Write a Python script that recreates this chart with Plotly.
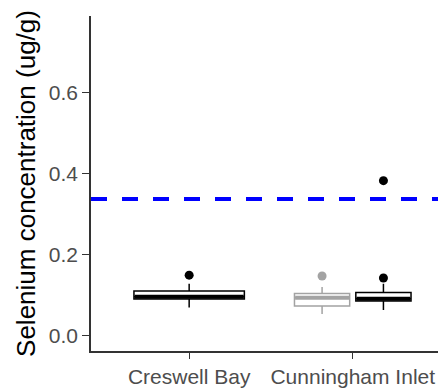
import plotly.graph_objects as go

# ---- data ----
categories = ["Creswell Bay", "Cunningham Inlet"]
# boxes: (category index, group, q1, median, q3, lower whisker, upper whisker)
box_cat = [0, 1, 1]
box_group = ["black", "gray", "black"]
box_q1 = [0.090, 0.073, 0.085]
box_median = [0.096, 0.093, 0.091]
box_q3 = [0.110, 0.104, 0.106]
box_lower = [0.069, 0.053, 0.063]
box_upper = [0.128, 0.120, 0.128]
# outliers
out_box = [0, 1, 2, 2]
out_value = [0.149, 0.147, 0.142, 0.382]
threshold = 0.337

y_ticks = [0.0, 0.2, 0.4, 0.6]

colors = {"black": "#000000", "gray": "#A3A3A3"}

# dodge positions (ggplot-like: width 0.75, padding 0.1)
dodge_w = 0.75
pad = 0.1
n_in_cat = {c: box_cat.count(c) for c in set(box_cat)}
positions, widths = [], []
seen = {}
for c in box_cat:
    n = n_in_cat[c]
    k = seen.get(c, 0)
    seen[c] = k + 1
    slot = dodge_w / n
    positions.append(c - dodge_w / 2 + slot * (k + 0.5))
    widths.append(slot * (1 - pad))

x_range = [-0.6, 1.57]
y_range = [-0.038, 0.788]

fig = go.Figure()

for i in range(len(box_cat)):
    col = colors[box_group[i]]
    fig.add_trace(go.Box(
        x=[positions[i]], q1=[box_q1[i]], median=[box_median[i]], q3=[box_q3[i]],
        lowerfence=[box_lower[i]], upperfence=[box_upper[i]],
        width=widths[i], fillcolor="white", line=dict(color=col, width=1.5),
        whiskerwidth=0, boxpoints=False, showlegend=False, hoverinfo="skip",
    ))
    # thick median line
    fig.add_trace(go.Scatter(
        x=[positions[i] - widths[i] / 2 + 0.004, positions[i] + widths[i] / 2 - 0.004],
        y=[box_median[i], box_median[i]], mode="lines",
        line=dict(color=col, width=4), showlegend=False, hoverinfo="skip",
    ))

for b, v in zip(out_box, out_value):
    fig.add_trace(go.Scatter(
        x=[positions[b]], y=[v], mode="markers",
        marker=dict(color=colors[box_group[b]], size=9, line=dict(width=0)),
        showlegend=False, hoverinfo="skip",
    ))

fig.add_trace(go.Scatter(
    x=x_range, y=[threshold, threshold], mode="lines",
    line=dict(color="#0000FF", width=4, dash="16px,15px"),
    showlegend=False, hoverinfo="skip",
))

font_family = "Liberation Sans, Arial, sans-serif"
fig.update_layout(
    width=438, height=380,
    margin=dict(l=83, r=0, t=8, b=35),
    paper_bgcolor="white", plot_bgcolor="white",
    font=dict(family=font_family, color="#4D4D4D"),
    showlegend=False,
    xaxis=dict(
        range=x_range, tickmode="array", tickvals=list(range(len(categories))),
        ticktext=categories, showgrid=False, zeroline=False,
        showline=True, linecolor="#333333", linewidth=1.5,
        ticks="outside", ticklen=6, tickwidth=1.2, tickcolor="#333333",
        tickfont=dict(size=21, color="#4D4D4D"),
    ),
    yaxis=dict(
        range=y_range, tickmode="array", tickvals=y_ticks,
        ticktext=[f"{v:.1f}" for v in y_ticks], showgrid=False, zeroline=False,
        showline=True, linecolor="#333333", linewidth=1.5,
        ticks="outside", ticklen=7, tickwidth=1.2, tickcolor="#333333",
        tickfont=dict(size=21, color="#4D4D4D"),
        title=dict(text="Selenium concentration (ug/g)",
                   font=dict(size=26, color="#000000"), standoff=6),
    ),
)

fig.write_html("out.html")
